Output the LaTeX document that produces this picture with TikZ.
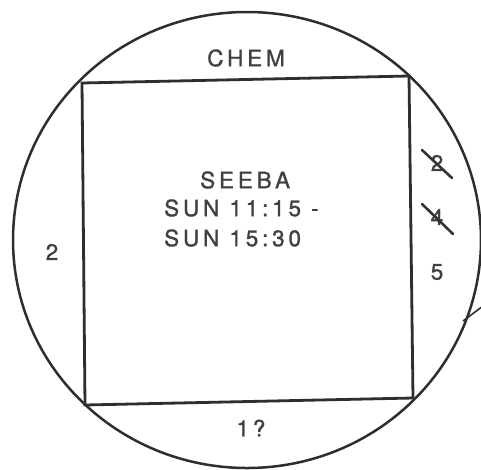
\documentclass[tikz,border=0pt]{standalone}
\usepackage{fontspec}
\newfontfamily\lbl[LetterSpace=17,FakeBold=1.2]{TeX Gyre Heros}
\begin{document}
\begin{tikzpicture}[x=1pt,y=-1pt,
  edge/.style={line width=2.5pt,color=black!82},
  txt/.style={font=\lbl\fontsize{22.5}{26}\selectfont,color=black!75,inner sep=0pt},
  strike/.style={line width=2.6pt,color=black!80,line cap=round}]
\useasboundingbox (0,0) rectangle (481,469);
\fill[white] (0,0) rectangle (481,469);
% outline
\draw[edge] (247,240) ellipse [x radius=234, y radius=228];
\coordinate (tl) at (82,83);
\coordinate (tr) at (409,76);
\coordinate (br) at (413,398);
\coordinate (bl) at (85,405);
\draw[edge,line width=2.8pt] (tl) -- (tr) -- (br) -- (bl) -- cycle;
% tangent stroke at right
\coordinate (t1) at (463,321);
\coordinate (t2) at (483,306);
\draw[edge,line width=1.6pt] (t1) -- (t2);
% labels
\node[txt] (chem) at (246,58) {CHEM};
\node[txt] (left) at (52,252) {2};
\node[txt] (bottom) at (251,428) {1?};
\node[txt] (r5) at (437,272) {5};
\node[txt] (r2) at (437,163) {2};
\node[txt] (r4) at (437,217) {4};
\draw[strike] (422,150) -- (452,178);
\draw[strike] (422,204) -- (453,234);
\node[txt,anchor=west] (name) at (200,180) {SEEBA};
\node[txt,anchor=west] (t1l) at (164,208) {SUN 11:15 -};
\node[txt,anchor=west] (t2l) at (164,238) {SUN 15:30};
\end{tikzpicture}
\end{document}
